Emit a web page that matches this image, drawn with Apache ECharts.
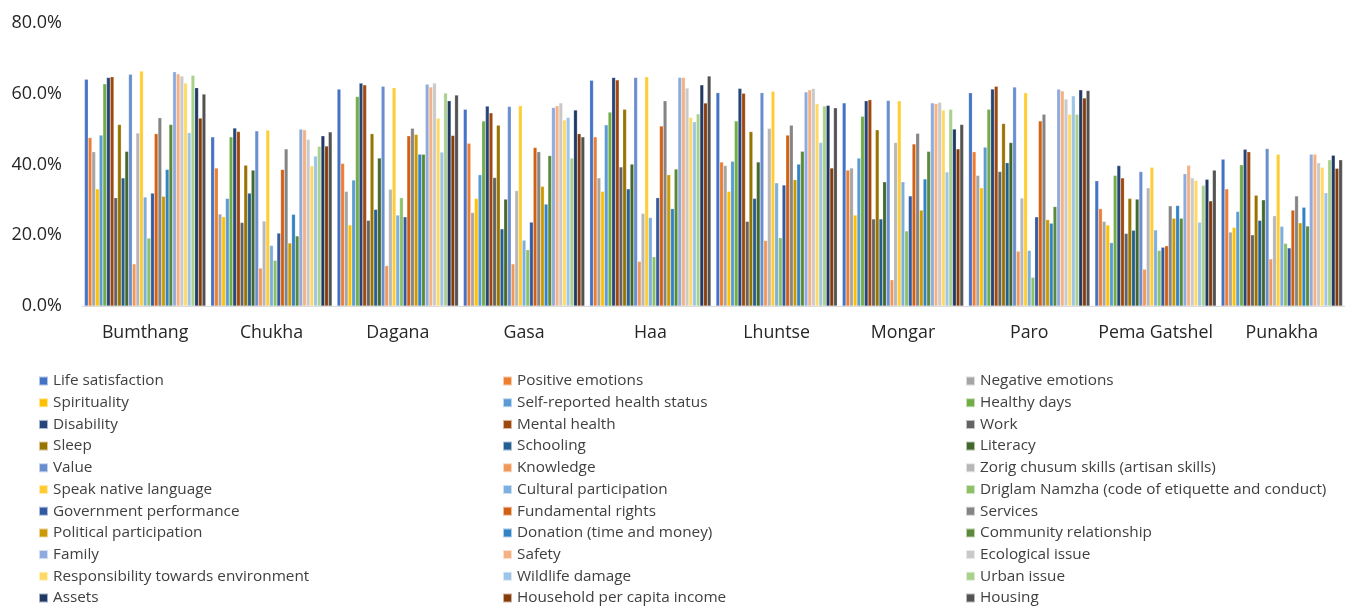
<!DOCTYPE html>
<html>
<head>
<meta charset="utf-8">
<title>Wellbeing indicators by district</title>
<script src="https://cdn.jsdelivr.net/npm/echarts@6/dist/echarts.min.js"></script>
<style>
  html, body { margin: 0; padding: 0; background: #ffffff; }
  #chart { width: 1345px; height: 609px; }
</style>
</head>
<body>
<div id="chart"></div>
<script>
// Districts along the category axis
const districts = ['Bumthang', 'Chukha', 'Dagana', 'Gasa', 'Haa', 'Lhuntse', 'Mongar', 'Paro', 'Pema Gatshel', 'Punakha'];

// Indicator names (one bar series each)
const indicators = [
  'Life satisfaction', 'Positive emotions', 'Negative emotions',
  'Spirituality', 'Self-reported health status', 'Healthy days',
  'Disability', 'Mental health', 'Work',
  'Sleep', 'Schooling', 'Literacy',
  'Value', 'Knowledge', 'Zorig chusum skills (artisan skills)',
  'Speak native language', 'Cultural participation', 'Driglam Namzha (code of etiquette and conduct)',
  'Government performance', 'Fundamental rights', 'Services',
  'Political participation', 'Donation (time and money)', 'Community relationship',
  'Family', 'Safety', 'Ecological issue',
  'Responsibility towards environment', 'Wildlife damage', 'Urban issue',
  'Assets', 'Household per capita income', 'Housing'
];

// Share (%) per indicator, one array per district, in indicator order
const bumthang    = [64.1, 47.6, 43.6, 33.1, 48.3, 62.8, 64.6, 64.8, 30.6, 51.3, 36.2, 43.7, 65.5, 11.9, 48.9, 66.4, 30.8, 19.2, 31.9, 48.7, 53.2, 31.0, 38.6, 51.3, 66.2, 65.6, 65.0, 63.0, 49.0, 65.2, 61.7, 53.1, 59.9];
const chukha      = [47.8, 39.0, 26.0, 25.2, 30.4, 47.8, 50.3, 49.3, 23.6, 39.8, 31.9, 38.4, 49.5, 10.7, 24.0, 49.7, 17.1, 12.9, 20.6, 38.6, 44.4, 17.8, 25.9, 19.8, 50.0, 49.8, 47.1, 39.6, 42.4, 45.1, 48.1, 45.2, 49.2];
const dagana      = [61.3, 40.3, 32.4, 22.9, 35.6, 59.2, 63.0, 62.5, 24.2, 48.7, 27.3, 41.8, 62.1, 11.4, 33.0, 61.7, 25.7, 30.6, 25.2, 48.1, 50.2, 48.5, 42.9, 42.9, 62.7, 61.9, 63.0, 53.1, 43.5, 60.2, 58.0, 48.2, 59.6];
const gasa        = [55.6, 46.0, 26.4, 30.4, 37.1, 52.3, 56.5, 54.6, 36.3, 51.1, 21.8, 30.2, 56.4, 11.9, 32.6, 56.6, 18.6, 15.9, 23.7, 44.8, 43.6, 33.8, 28.8, 42.5, 56.1, 56.6, 57.4, 52.6, 53.3, 41.8, 55.4, 48.7, 47.8];
const haa         = [63.8, 47.8, 36.2, 32.4, 51.2, 54.8, 64.6, 63.9, 39.3, 55.6, 33.1, 40.1, 64.6, 12.6, 26.2, 64.8, 25.0, 13.9, 30.6, 50.9, 58.0, 37.1, 27.5, 38.7, 64.6, 64.6, 61.6, 53.3, 52.1, 54.3, 62.5, 57.4, 65.0];
const lhuntse     = [60.3, 40.7, 39.7, 32.4, 40.9, 52.3, 61.5, 60.1, 23.9, 49.3, 30.4, 40.7, 60.3, 18.5, 50.2, 60.7, 34.8, 19.3, 34.2, 48.3, 51.1, 35.7, 40.1, 43.7, 60.5, 61.1, 61.5, 57.2, 46.2, 56.5, 56.7, 39.0, 56.0];
const mongar      = [57.4, 38.4, 39.0, 25.7, 41.8, 53.6, 58.0, 58.3, 24.6, 49.8, 24.6, 35.1, 58.1, 7.4, 46.2, 58.0, 35.1, 21.2, 31.1, 45.8, 48.8, 27.1, 35.9, 43.7, 57.4, 57.2, 57.6, 55.4, 37.9, 55.6, 50.0, 44.4, 51.3];
const paro        = [60.3, 43.6, 36.9, 33.4, 44.9, 55.6, 61.3, 62.1, 38.0, 51.6, 40.5, 46.2, 61.9, 15.5, 30.5, 60.3, 15.7, 8.1, 25.2, 52.3, 54.2, 24.4, 23.4, 28.1, 61.3, 60.8, 58.5, 54.2, 59.4, 54.2, 61.1, 58.8, 60.9];
const pemaGatshel = [35.4, 27.5, 23.9, 22.9, 17.9, 36.9, 39.7, 36.2, 20.5, 30.4, 21.4, 30.2, 38.0, 10.4, 33.4, 39.2, 21.5, 15.7, 16.6, 17.0, 28.3, 24.8, 28.4, 24.8, 37.4, 39.8, 36.2, 35.5, 23.7, 34.1, 35.8, 29.7, 38.4];
const punakha     = [41.5, 33.1, 20.9, 22.2, 26.7, 39.9, 44.3, 43.6, 20.1, 31.3, 24.2, 30.0, 44.5, 13.3, 25.5, 42.9, 22.5, 17.7, 16.4, 27.1, 31.1, 23.5, 27.9, 22.6, 42.9, 42.9, 40.5, 39.2, 32.0, 41.3, 42.6, 38.9, 41.3];

const byDistrict = [bumthang, chukha, dagana, gasa, haa, lhuntse, mongar, paro, pemaGatshel, punakha];

// Y axis ticks
const yTicks = [0, 20, 40, 60, 80];

// Office-style palette: six accents, then darker / lighter shades
const palette = [
  '#4472C4', '#ED7D31', '#A5A5A5', '#FFC000', '#5B9BD5', '#70AD47',
  '#264478', '#9E480E', '#636363', '#997300', '#255E91', '#43682B',
  '#698ED0', '#F1975A', '#B7B7B7', '#FFCD33', '#7CAFDD', '#8CC168',
  '#335AA1', '#D26012', '#848484', '#CC9A00', '#3282C6', '#5A8A39',
  '#8FAADC', '#F4B183', '#C9C9C9', '#FFD966', '#9DC3E6', '#A9D18E',
  '#203864', '#843C0C', '#525252'
];

const FONT = '"Open Sans", Lato, sans-serif';

const series = indicators.map((name, i) => ({
  name: name,
  type: 'bar',
  barGap: '0%',
  barCategoryGap: '4%',
  itemStyle: { color: palette[i], borderColor: 'rgba(255,255,255,0.6)', borderWidth: 0.4 },
  data: byDistrict.map(arr => arr[i])
}));

// Three legend columns, filled row by row
const legendCols = [0, 1, 2].map(c => indicators.filter((_, i) => i % 3 === c));
const legendLeft = [38, 502, 965];
const legends = legendCols.map((names, c) => ({
  data: names,
  orient: 'vertical',
  left: legendLeft[c],
  top: 373,
  padding: 0,
  icon: 'rect',
  itemWidth: 9,
  itemHeight: 9,
  itemGap: 5.7,
  textStyle: { fontFamily: FONT, fontSize: 15.3, color: '#404040', lineHeight: 16 }
}));

const chart = echarts.init(document.getElementById('chart'), null, { renderer: 'canvas' });
chart.setOption({
  animation: false,
  color: palette,
  legend: legends,
  grid: { left: 82, right: 0, top: 23, bottom: 303 },
  xAxis: {
    type: 'category',
    data: districts,
    axisTick: { show: false },
    axisLine: { show: true, lineStyle: { color: '#D9D9D9', width: 1 } },
    axisLabel: { interval: 0, fontFamily: FONT, fontSize: 17.8, color: '#262626', margin: 18 }
  },
  yAxis: {
    type: 'value',
    min: yTicks[0],
    max: yTicks[yTicks.length - 1],
    interval: yTicks[1] - yTicks[0],
    splitLine: { show: false },
    axisLine: { show: false },
    axisTick: { show: false },
    axisLabel: {
      fontFamily: FONT, fontSize: 18, color: '#262626', margin: 20,
      formatter: v => v.toFixed(1) + '%'
    }
  },
  series: series
});
</script>
</body>
</html>
